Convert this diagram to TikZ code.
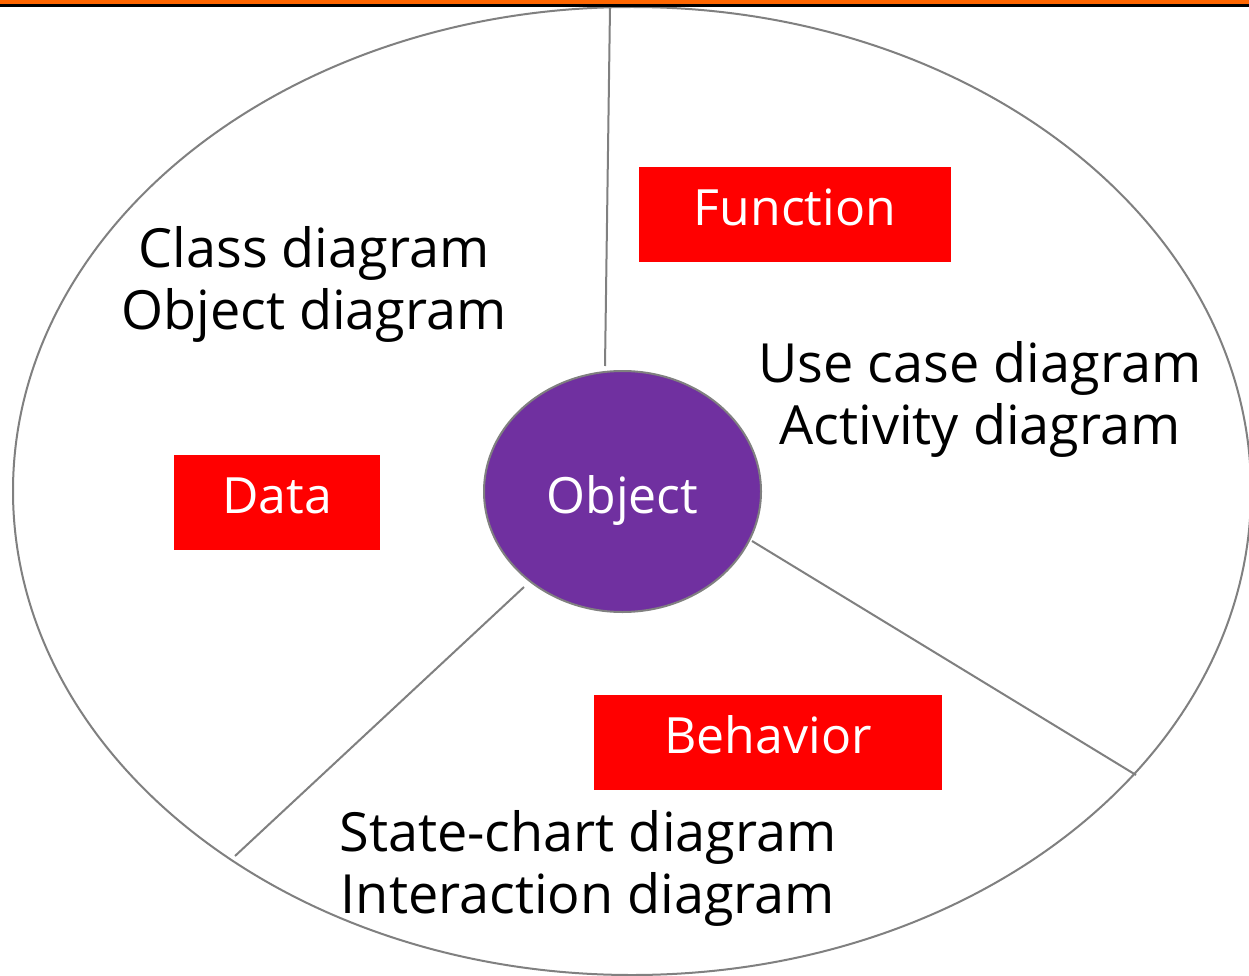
\documentclass[tikz,border=0pt]{standalone}
\usepackage{fontspec}
\setmainfont{Open Sans}
\usetikzlibrary{shapes.geometric}
\definecolor{barorange}{HTML}{FF6600}
\definecolor{objpurple}{HTML}{7030A0}
\definecolor{rimgray}{HTML}{808080}
\begin{document}
\begin{tikzpicture}[x=1pt,y=-1pt,
  rim/.style={draw=rimgray,line width=2pt},
  tag/.style={fill=red,text=white,inner sep=0pt,text height=36pt,text depth=14pt,
    font=\fontsize{50}{56}\selectfont},
  list/.style={align=center,text=black,inner sep=0pt,font=\fontsize{54}{62}\selectfont}]
\useasboundingbox (0,0) rectangle (1249,976);
\fill[white] (0,0) rectangle (1249,976);
% outer ellipse
\node[rim,ellipse,minimum width=1238pt,minimum height=968pt,inner sep=0pt] (outer) at (632,491) {};
% dividers
\coordinate (topA) at (605,366);
\coordinate (topB) at (610,7);
\coordinate (rightA) at (752,541);
\coordinate (rightB) at (1136,775);
\coordinate (leftA) at (524,587);
\coordinate (leftB) at (235,856);
\draw[rim] (topA) -- (topB);
\draw[rim] (rightA) -- (rightB);
\draw[rim] (leftA) -- (leftB);
% centre
\node[rim,ellipse,fill=objpurple,minimum width=277pt,minimum height=241pt,inner sep=0pt,
  text=white,text height=50pt,text depth=7pt,font=\fontsize{50}{56}\selectfont] (obj) at (622.5,491.5) {Object};
% red tags
\node[tag,minimum width=312pt,minimum height=95pt] (func) at (795,214.5) {Function};
\node[tag,minimum width=206pt,minimum height=95pt] (data) at (277,502.5) {Data};
\node[tag,minimum width=348pt,minimum height=95pt] (beh) at (768,742.5) {Behavior};
% diagram lists
\node[list] (dataList) at (314,284) {Class diagram\\Object diagram};
\node[list] (funcList) at (980,399) {Use case diagram\\Activity diagram};
\node[list] (behList) at (588,868) {State-chart diagram\\Interaction diagram};
% top bar
\fill[barorange] (0,0) rectangle (1249,4.5);
\fill[black] (0,4.5) rectangle (1249,7);
\end{tikzpicture}
\end{document}
